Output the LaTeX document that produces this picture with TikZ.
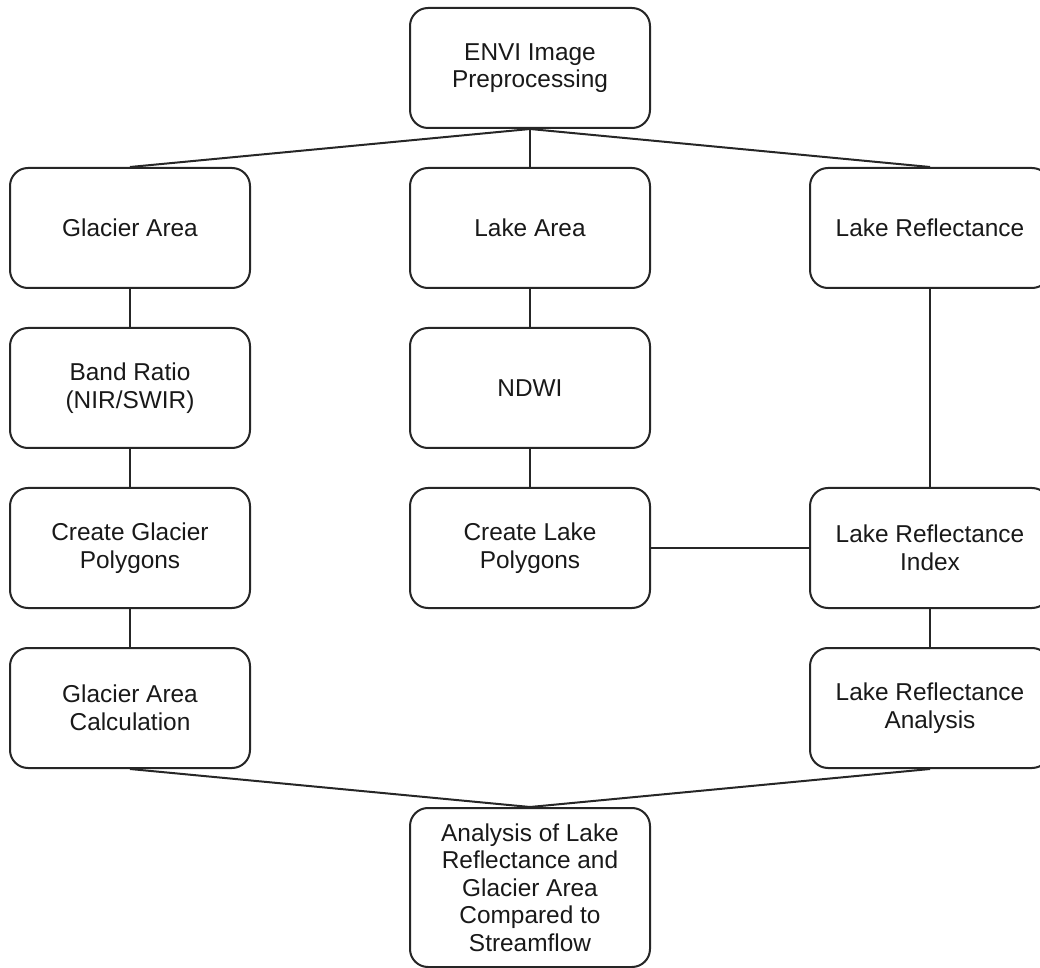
\documentclass[tikz,border=0pt]{standalone}
\usepackage{fontspec}
\setmainfont{Liberation Sans}
\begin{document}
\begin{tikzpicture}[x=0.5pt,y=-0.5pt,
  box/.style={draw=black!85, line width=1pt, rounded corners=9pt, fill=white,
    minimum width=120pt, minimum height=60pt, align=center, inner sep=0pt,
    font=\fontsize{12.2}{13.8}\selectfont, text=black!90},
  link/.style={draw=black!85, line width=1pt}]
\useasboundingbox (0,0) rectangle (1040,968);
\clip (0,0) rectangle (1040,968);
\node[box] (envi) at (530,68) {ENVI Image\\Preprocessing};
\node[box] (glacier) at (130,228) {Glacier Area};
\node[box] (lake) at (530,228) {Lake Area};
\node[box] (lrefl) at (930,228) {Lake Reflectance};
\node[box] (band) at (130,388) {Band Ratio\\(NIR/SWIR)};
\node[box] (ndwi) at (530,388) {NDWI};
\node[box] (gpoly) at (130,548) {Create Glacier\\Polygons};
\node[box] (lpoly) at (530,548) {Create Lake\\Polygons};
\node[box] (lrindex) at (930,548) {Lake Reflectance\\Index};
\node[box] (gcalc) at (130,708) {Glacier Area\\Calculation};
\node[box] (lranal) at (930,708) {Lake Reflectance\\Analysis};
\node[box, minimum height=79.5pt] (final) at (530,887.5) {Analysis of Lake\\Reflectance and\\Glacier Area\\Compared to\\Streamflow};
\draw[link] (envi.south) -- (glacier.north);
\draw[link] (envi.south) -- (lake.north);
\draw[link] (envi.south) -- (lrefl.north);
\draw[link] (glacier.south) -- (band.north);
\draw[link] (band.south) -- (gpoly.north);
\draw[link] (gpoly.south) -- (gcalc.north);
\draw[link] (lake.south) -- (ndwi.north);
\draw[link] (ndwi.south) -- (lpoly.north);
\draw[link] (lrefl.south) -- (lrindex.north);
\draw[link] (lpoly.east) -- (lrindex.west);
\draw[link] (lrindex.south) -- (lranal.north);
\draw[link] (gcalc.south) -- (final.north);
\draw[link] (lranal.south) -- (final.north);
\end{tikzpicture}
\end{document}
